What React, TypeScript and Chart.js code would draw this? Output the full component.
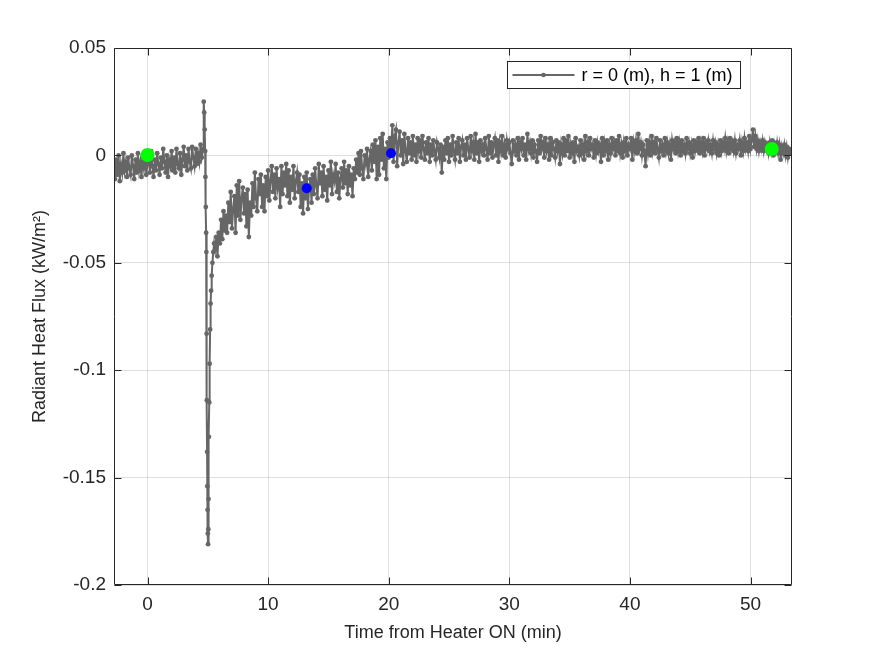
import React, { useEffect, useRef } from "react";
import { Chart, registerables } from "chart.js";

Chart.register(...registerables);

// ---- axes ----
const X_MIN = -2.78;
const X_MAX = 53.44;
const Y_MIN = -0.2;
const Y_MAX = 0.05;
const xTickValues = [0, 10, 20, 30, 40, 50];
const xTickLabels = ["0", "10", "20", "30", "40", "50"];
const yTickValues = [0.05, 0, -0.05, -0.1, -0.15, -0.2];
const yTickLabels = ["0.05", "0", "-0.05", "-0.1", "-0.15", "-0.2"];

const xTitle = "Time from Heater ON (min)";
const yTitle = "Radiant Heat Flux (kW/m\u00B2)";
const seriesLabel = "r = 0 (m), h = 1 (m)";

// ---- data (flux read in W/m², i.e. 1e-3 kW/m²), sampled every 0.1 min ----
const sampleStep = 0.1; // min

const baselineStart = -2.8;
const baselineMilli = [
  -6, -11, -2, -9, 0, -12, -4, -8, 1, -7,
  -3, -10, -1, -6, -9, 0, -5, -11, -2, -8,
  1, -7, -3, -10, -1, -6, 0, -9, -4, -1,
  -8, 2, -5, -10, -2, -7, 1, -4, -9, -1,
  -6, 3, -3, -8, 0, -10, -2, -5, 2, -7,
  -1, -8, 3, -4, -6, 1, -9, -2, 4, -5,
  0, -7, 3, -3, -6, 4, -1, -5, 3, -4,
  1, -3, 5, -1,
];

const spikeTimes = [
  4.62, 4.66, 4.7, 4.74, 4.78, 4.8, 4.83, 4.86, 4.88, 4.9, 4.92, 4.94, 4.96, 4.98, 5.0, 5.02,
  5.04, 5.06, 5.09, 5.12, 5.15, 5.19, 5.23, 5.27, 5.32, 5.38, 5.45, 5.52,
];
const spikeMilli = [
  3, 25, 20, 12, 2, -10, -24, -36, -45, -83, -114, -138, -154, -165, -176, -181,
  -174, -160, -131, -115, -97, -81, -69, -63, -56, -50, -45, -41,
];

const recoveryStart = 5.6;
const recoveryMilli = [
  -44, -38, -47, -36, -41, -30, -39, -26, -35, -28,
  -36, -22, -31, -17, -34, -25, -19, -36, -14, -28,
  -12, -30, -20, -15, -27, -18, -33, -16, -38, -22,
  -28, -13, -24, -8, -20, -26, -11, -18, -9, -24,
  -14, -26, -10, -19, -7, -21, -12, -5, -17, -9,
  -20, -6, -15, -11, -24, -5, -18, -8, -14, -4,
  -19, -7, -22, -10, -16, -5, -20, -12, -8, -17,
  -9, -24, -13, -27, -10, -20, -8, -25, -15, -11,
  -22, -9, -18, -6, -14, -20, -4, -13, -8, -19,
  -5, -16, -10, -21, -7, -14, -3, -18, -9, -12,
  -4, -17, -8, -20, -11, -6, -15, -3, -13, -7,
  -18, -5, -14, -9, -19, -6, -11, -2, -8, 1,
  -9, 2, -6, -11, 0, -4, 3, -10, -2, 2,
  -7, 5, -3, 7, -11,
];

const steadyStart = 19.1;
const steadyMilli = [
  4, -9, 8, -2, 10, -6, 3, -11, 6, -1,
  8, 2, 14, -3, 9, 12, -5, 6, 11, 0,
  7, -4, 10, 2, -3, 8, 1, 6, -2, 9,
  0, 5, -3, 8, 2, 7, -1, 9, 3, -2,
  6, 1, 8, -3, 5, 0, 7, 2, -2, 6,
  3, -1, 5, -8, 4, -2, 7, 1, 8, -3,
  5, 0, 9, 2, -2, 6, 1, 8, -3, 4,
  7, 0, 5, -2, 8, 3, -1, 9, 2, 6,
  -2, 10, 1, 6, -3, 7, 2, 5, 0, 8,
  3, -2, 9, 1, 6, -1, 5, 8, 0, 7,
  -3, 6, 2, 9, 0, 5, -1, 7, 3, 6,
  1, -4, 7, 2, 5, 0, 8, -2, 6, 3,
  8, 0, 5, -2, 10, 3, 6, 1, 7, -1,
  5, 2, -3, 7, 1, 9, 3, 6, -1, 8,
  2, 5, -2, 8, 0, 6, 3, -1, 7, 2,
  6, -4, 5, 1, 8, 0, 7, 2, 9, -1,
  5, 1, 6, -3, 8, 2, 4, 0, 7, 1,
  5, -2, 9, 2, 6, 0, 8, 3, 5, -1,
  7, 1, 6, 2, 5, -3, 8, 0, 6, 2,
  7, -2, 5, 1, 8, 3, 6, 0, 7, 2,
  9, 1, 5, -1, 6, 2, 8, 0, 5, 3,
  8, -2, 6, 2, 7, 1, 10, 3, 6, 0,
  5, 2, -5, 7, 1, 6, 0, 9, 2, 6,
  1, 8, 3, -1, 7, 2, 5, 0, 8, 2,
  6, 1, 5, -2, 7, 3, 6, 1, 8, 2,
  6, 0, 7, 2, 5, 1, 8, 3, 6, 1,
  5, -1, 7, 2, 6, 3, 8, 1, 6, 2,
  8, 0, 6, 3, 7, 2, 5, 1, 7, 3,
  6, 1, 5, 0, 7, 2, 6, 3, 8, 2,
  6, 1, 8, 3, 6, 2, 7, 1, 5, 3,
  7, 0, 6, 2, 8, 3, 6, 2, 9, 3,
  7, 12, 4, 9, 3, 7, 2, 6, 3, 7,
  2, 6, 3, 5, 1, 6, 2, 7, 0, 5,
  2, 6, 1, 5, -2, 4, 1, 5, 0, 4,
  -1, 3, 1, 2,
];

// highlighted points
const greenTimes = [0, 51.76];
const greenFlux = [0.0002, 0.003];
const blueTimes = [13.2, 20.19];
const blueFlux = [-0.0153, 0.001];

// ---- style ----
const FONT = "'Liberation Sans', Arial, Helvetica, sans-serif";
const AXIS_COLOR = "#262626";
const GRID_COLOR = "rgba(38,38,38,0.15)";
const TRACE_COLOR = "#666666";

function uniform(start: number, vals: number[]) {
  return vals.map((v, i) => ({ x: +(start + i * sampleStep).toFixed(3), y: v / 1000 }));
}

function buildTrace() {
  return [
    ...uniform(baselineStart, baselineMilli),
    ...spikeTimes.map((t, i) => ({ x: t, y: spikeMilli[i] / 1000 })),
    ...uniform(recoveryStart, recoveryMilli),
    ...uniform(steadyStart, steadyMilli),
  ];
}

const matlabAxesPlugin = {
  id: "matlabAxes",
  afterDraw(chart: any) {
    const { ctx, chartArea: a, scales } = chart;
    const xs = scales.x;
    const ys = scales.y;
    ctx.save();
    ctx.strokeStyle = AXIS_COLOR;
    ctx.lineWidth = 1;
    const L = Math.round(a.left) + 0.5;
    const R = Math.round(a.right) - 0.5;
    const T = Math.round(a.top) + 0.5;
    const B = Math.round(a.bottom) - 0.5;
    ctx.beginPath();
    ctx.rect(L, T, R - L, B - T);
    const tl = 7;
    xTickValues.forEach((v) => {
      const px = Math.round(xs.getPixelForValue(v)) + 0.5;
      ctx.moveTo(px, B);
      ctx.lineTo(px, B - tl);
      ctx.moveTo(px, T);
      ctx.lineTo(px, T + tl);
    });
    yTickValues.forEach((v) => {
      const py = Math.round(ys.getPixelForValue(v)) + 0.5;
      ctx.moveTo(L, py);
      ctx.lineTo(L + tl, py);
      ctx.moveTo(R, py);
      ctx.lineTo(R - tl, py);
    });
    ctx.stroke();

    // legend
    ctx.font = `18px ${FONT}`;
    const tw = ctx.measureText(seriesLabel).width;
    const boxRight = Math.round(a.right - 52) + 0.5;
    const boxTop = Math.round(a.top + 13) + 0.5;
    const boxH = 27;
    const boxLeft = Math.round(boxRight - 8 - tw - 7 - 62 - 5) + 0.5;
    ctx.fillStyle = "#ffffff";
    ctx.fillRect(boxLeft, boxTop, boxRight - boxLeft, boxH);
    ctx.strokeStyle = AXIS_COLOR;
    ctx.strokeRect(boxLeft, boxTop, boxRight - boxLeft, boxH);
    const midY = boxTop + boxH / 2;
    ctx.strokeStyle = TRACE_COLOR;
    ctx.lineWidth = 2;
    ctx.beginPath();
    ctx.moveTo(boxLeft + 5, midY);
    ctx.lineTo(boxLeft + 67, midY);
    ctx.stroke();
    ctx.fillStyle = TRACE_COLOR;
    ctx.beginPath();
    ctx.arc(boxLeft + 36, midY, 2.3, 0, Math.PI * 2);
    ctx.fill();
    ctx.fillStyle = "#000000";
    ctx.textAlign = "left";
    ctx.textBaseline = "middle";
    ctx.fillText(seriesLabel, boxLeft + 74, midY + 1);
    ctx.restore();
  },
};

export default function App() {
  const canvasRef = useRef<HTMLCanvasElement | null>(null);

  useEffect(() => {
    const canvas = canvasRef.current;
    if (!canvas) return;
    const chart = new Chart(canvas, {
      type: "scatter",
      data: {
        datasets: [
          {
            label: "green",
            data: greenTimes.map((t, i) => ({ x: t, y: greenFlux[i] })),
            pointRadius: 7,
            pointBackgroundColor: "#00ff00",
            pointBorderWidth: 0,
            showLine: false,
          },
          {
            label: "blue",
            data: blueTimes.map((t, i) => ({ x: t, y: blueFlux[i] })),
            pointRadius: 5,
            pointBackgroundColor: "#0000ff",
            pointBorderWidth: 0,
            showLine: false,
          },
          {
            label: seriesLabel,
            data: buildTrace(),
            showLine: true,
            borderColor: TRACE_COLOR,
            borderWidth: 2,
            pointRadius: 2.4,
            pointBackgroundColor: TRACE_COLOR,
            pointBorderWidth: 0,
            tension: 0,
          },
        ],
      },
      options: {
        animation: false,
        responsive: false,
        devicePixelRatio: 1,
        layout: { padding: { left: 0, right: 83, top: 48, bottom: 0 } },
        plugins: {
          legend: { display: false },
          tooltip: { enabled: false },
        },
        scales: {
          x: {
            type: "linear",
            min: X_MIN,
            max: X_MAX,
            afterBuildTicks: (s: any) => {
              s.ticks = xTickValues.map((v) => ({ value: v }));
            },
            afterFit: (s: any) => {
              s.height = 71;
            },
            ticks: {
              callback: (v: any) => xTickLabels[xTickValues.indexOf(Number(v))] ?? "",
              font: { family: FONT, size: 19 },
              color: AXIS_COLOR,
              padding: 8,
              maxRotation: 0,
              autoSkip: false,
            },
            grid: { color: GRID_COLOR, drawTicks: false, lineWidth: 1 },
            border: { display: false },
            title: {
              display: true,
              text: xTitle,
              font: { family: FONT, size: 18 },
              color: AXIS_COLOR,
              padding: { top: 0, bottom: 12 },
            },
          },
          y: {
            type: "linear",
            min: Y_MIN,
            max: Y_MAX,
            afterBuildTicks: (s: any) => {
              s.ticks = yTickValues.map((v) => ({ value: v }));
            },
            afterFit: (s: any) => {
              s.width = 114;
            },
            ticks: {
              callback: (v: any) => {
                const i = yTickValues.findIndex((t) => Math.abs(t - Number(v)) < 1e-9);
                return i >= 0 ? yTickLabels[i] : "";
              },
              font: { family: FONT, size: 19 },
              color: AXIS_COLOR,
              padding: 8,
              autoSkip: false,
            },
            grid: { color: GRID_COLOR, drawTicks: false, lineWidth: 1 },
            border: { display: false },
            title: {
              display: true,
              text: yTitle,
              font: { family: FONT, size: 18 },
              color: AXIS_COLOR,
              padding: { top: 29, bottom: 0 },
            },
          },
        },
      },
      plugins: [matlabAxesPlugin],
    } as any);
    return () => chart.destroy();
  }, []);

  return (
    <div style={{ position: "absolute", left: 0, top: 0, width: 875, height: 656, background: "#ffffff" }}>
      <canvas ref={canvasRef} width={875} height={656} style={{ width: 875, height: 656, display: "block" }} />
    </div>
  );
}
